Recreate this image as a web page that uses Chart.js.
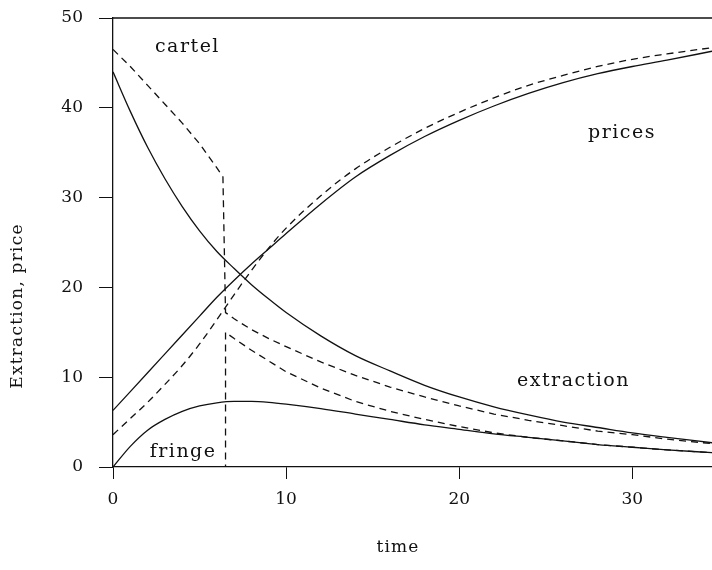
<!DOCTYPE html>
<html>
<head>
<meta charset="utf-8">
<script src="https://cdn.jsdelivr.net/npm/chart.js@4.4.1/dist/chart.umd.min.js"></script>
<style>
  html, body { margin: 0; padding: 0; background: #fff; }
  #wrap { width: 712px; height: 570px; position: relative; }
</style>
</head>
<body>
<div id="wrap"><canvas id="chart"></canvas></div>
<script>
// cartel / fringe extraction and price paths

const tSmooth = [0, 1, 2, 3, 4, 5, 6, 7, 8, 9, 10, 12, 14, 16, 18, 20, 22, 24, 26, 28, 30, 32, 34.6];
const extractionSolid = [44, 39.6, 35.6, 32.1, 29, 26.3, 24, 22.1, 20.3, 18.7, 17.2, 14.6, 12.4, 10.7, 9.1, 7.8, 6.7, 5.8, 5.0, 4.4, 3.8, 3.3, 2.7];
const pricesSolid = [6.3, 8.4, 10.5, 12.6, 14.7, 16.8, 18.9, 20.8, 22.6, 24.3, 26.0, 29.3, 32.3, 34.7, 36.8, 38.6, 40.2, 41.6, 42.8, 43.8, 44.6, 45.3, 46.3];
const pricesDashed = [3.6, 5.4, 7.2, 9.2, 11.3, 13.7, 16.4, 19.2, 21.9, 24.4, 26.6, 30.2, 33.2, 35.6, 37.7, 39.5, 41.1, 42.5, 43.6, 44.6, 45.4, 46.0, 46.7];
const fringeSolid = [0, 2.3, 4.1, 5.3, 6.2, 6.8, 7.15, 7.3, 7.3, 7.2, 7.0, 6.5, 5.9, 5.3, 4.7, 4.2, 3.7, 3.3, 2.9, 2.5, 2.2, 1.9, 1.6];

const tCartel = [0, 1, 2, 3, 4, 5, 6, 6.35, 6.5, 7, 8, 9, 10, 12, 14, 16, 18, 20, 22, 24, 26, 28, 30, 32, 34.6];
const cartelDashed = [46.5, 44.6, 42.5, 40.4, 38.3, 36.0, 33.3, 32.3, 17.2, 16.5, 15.3, 14.3, 13.4, 11.7, 10.2, 8.9, 7.8, 6.8, 5.9, 5.2, 4.6, 4.0, 3.6, 3.1, 2.6];

const tFringe = [0, 6.5, 6.5, 7, 8, 9, 10, 12, 14, 16, 18, 20, 22, 24, 26, 28, 30, 32, 34.6];
const fringeDashed = [0, 0, 15.0, 14.3, 13.0, 11.8, 10.6, 8.8, 7.3, 6.2, 5.3, 4.5, 3.8, 3.3, 2.9, 2.5, 2.2, 1.9, 1.6];

const xTickValues = [0, 10, 20, 30];
const yTickValues = [0, 10, 20, 30, 40, 50];

const labelText = ["cartel", "prices", "extraction", "fringe"];
const labelX = [4.3, 29.4, 26.6, 4.05];
const labelY = [46.8, 37.2, 9.6, 1.7];

const FONT = "'DejaVu Serif', serif";
const INK = "#111";

function pts(xs, ys) {
  return xs.map((x, i) => ({ x: x, y: ys[i] }));
}

function line(data, dashed, smooth) {
  return {
    data: data,
    borderColor: INK,
    borderWidth: 1.3,
    borderDash: dashed ? [7, 5] : [],
    pointRadius: 0,
    fill: false,
    tension: 0,
    cubicInterpolationMode: smooth ? "monotone" : "default"
  };
}

const textPlugin = {
  id: "textPlugin",
  afterDraw(chart) {
    const ctx = chart.ctx;
    const a = chart.chartArea;
    const xs = chart.scales.x;
    const ys = chart.scales.y;
    ctx.save();
    // top frame line
    ctx.strokeStyle = INK;
    ctx.lineWidth = 1.3;
    ctx.beginPath();
    ctx.moveTo(a.left, a.top);
    ctx.lineTo(a.right, a.top);
    ctx.stroke();

    ctx.fillStyle = INK;
    ctx.font = "19px " + FONT;
    ctx.letterSpacing = "1.5px";
    ctx.textAlign = "center";
    ctx.textBaseline = "middle";
    labelText.forEach((t, i) => {
      ctx.fillText(t, xs.getPixelForValue(labelX[i]), ys.getPixelForValue(labelY[i]));
    });

    // axis titles
    ctx.font = "17px " + FONT;
    ctx.letterSpacing = "1.2px";
    ctx.fillText("time", 398, 548);
    ctx.translate(18, 306);
    ctx.rotate(-Math.PI / 2);
    ctx.fillText("Extraction, price", 0, 0);
    ctx.restore();
  }
};

new Chart(document.getElementById("chart"), {
  type: "line",
  data: {
    datasets: [
      line(pts(tSmooth, extractionSolid), false, true),
      line(pts(tSmooth, pricesSolid), false, true),
      line(pts(tSmooth, fringeSolid), false, true),
      line(pts(tSmooth, pricesDashed), true, true),
      line(pts(tCartel, cartelDashed), true, false),
      line(pts(tFringe, fringeDashed), true, false)
    ]
  },
  options: {
    responsive: true,
    maintainAspectRatio: false,
    animation: false,
    events: [],
    layout: { padding: { top: 18, right: 0, left: 0, bottom: 0 } },
    plugins: {
      legend: { display: false },
      tooltip: { enabled: false }
    },
    scales: {
      x: {
        type: "linear",
        min: 0,
        max: 34.6,
        afterFit(scale) {
          scale.height = 103;
          scale.paddingLeft = 0;
          scale.paddingRight = 0;
        },
        afterBuildTicks(scale) { scale.ticks = xTickValues.map(v => ({ value: v })); },
        grid: { drawOnChartArea: false, drawTicks: true, tickLength: 12, color: INK, lineWidth: 1 },
        border: { display: true, color: INK, width: 1.3 },
        ticks: { color: INK, font: { family: FONT, size: 17 }, padding: 10, maxRotation: 0 }
      },
      y: {
        type: "linear",
        min: 0,
        max: 50,
        afterFit(scale) {
          scale.width = 113;
          scale.paddingTop = 0;
          scale.paddingBottom = 0;
        },
        afterBuildTicks(scale) { scale.ticks = yTickValues.map(v => ({ value: v })); },
        grid: { drawOnChartArea: false, drawTicks: true, tickLength: 14, color: INK, lineWidth: 1 },
        border: { display: true, color: INK, width: 1.3 },
        ticks: { color: INK, font: { family: FONT, size: 17 }, padding: 16 }
      }
    }
  },
  plugins: [textPlugin]
});
</script>
</body>
</html>
